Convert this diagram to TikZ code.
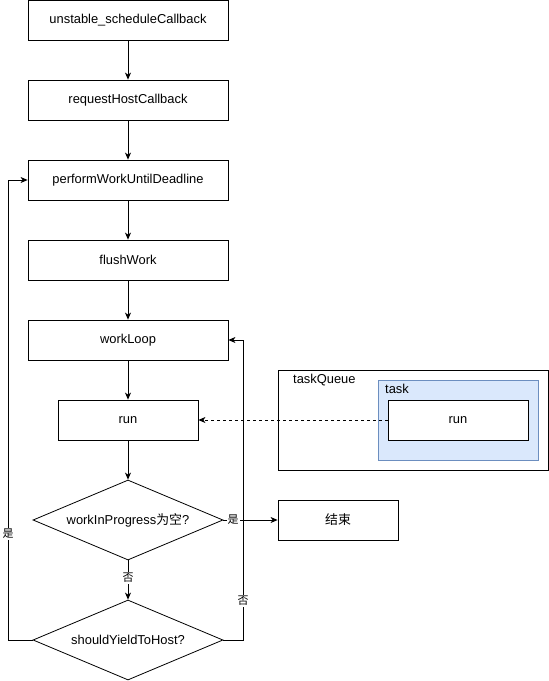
\documentclass[tikz,border=0pt]{standalone}
\usepackage{fontspec}
\setmainfont{Liberation Sans}
\newfontfamily\cjk{Noto Sans CJK SC}
\usetikzlibrary{arrows.meta,shapes.geometric}
\definecolor{taskstroke}{RGB}{108,142,191}
\definecolor{taskfill}{RGB}{218,232,252}
\begin{document}
\begin{tikzpicture}[x=1pt,y=-1pt,
  font=\fontsize{12.9}{15}\selectfont,
  >={Stealth[length=7pt,width=6pt,inset=2pt]},
  box/.style={draw,line width=0.8pt,fill=white,minimum width=200pt,minimum height=40pt,inner sep=0pt},
  rbox/.style={draw,line width=0.8pt,fill=white,minimum width=140pt,minimum height=40pt,inner sep=0pt},
  dec/.style={draw,line width=0.8pt,diamond,aspect=2.375,minimum width=190pt,minimum height=80pt,inner sep=0pt},
  conn/.style={line width=0.8pt,->},
  lbl/.style={fill=white,inner sep=1pt,font=\cjk\fontsize{11}{13}\selectfont}
]
\useasboundingbox (0,0) rectangle (549,681);
\node[box] (a) at (128,20.5) {unstable\_scheduleCallback};
\node[box] (b) at (128,100) {requestHostCallback};
\node[box] (c) at (128,180) {performWorkUntilDeadline};
\node[box] (d) at (128,260) {flushWork};
\node[box] (e) at (128,340) {workLoop};
\node[rbox] (f) at (128,420) {run};
\node[dec] (g) at (128,520) {workInProgress{\cjk 为空}?};
\node[dec] (h) at (128,640) {shouldYieldToHost?};
\node[draw,line width=0.8pt,minimum width=120pt,minimum height=40pt,inner sep=0pt] (end) at (338,520) {\cjk 结束};
\node[draw,line width=0.8pt,minimum width=270pt,minimum height=100pt,inner sep=0pt] (q) at (413,420) {};
\node[anchor=north west,inner sep=0pt] (qt) at (293,374) {taskQueue};
\node[draw=taskstroke,fill=taskfill,line width=0.8pt,minimum width=160pt,minimum height=80pt,inner sep=0pt] (t) at (458,420) {};
\node[anchor=north west,inner sep=0pt] (tt) at (385,384) {task};
\node[rbox] (tr) at (458,420) {run};
\draw[conn] (a) -- (b);
\draw[conn] (b) -- (c);
\draw[conn] (c) -- (d);
\draw[conn] (d) -- (e);
\draw[conn] (e) -- (f);
\draw[conn] (f) -- (g);
\draw[conn,dashed] (tr.west) -- (f.east);
\draw[conn] (g.east) -- node[lbl,pos=0.18] {是} (end.west);
\draw[conn] (g.south) -- node[lbl,pos=0.45] {否} (h.north);
\coordinate (l1) at (8,640);
\coordinate (l2) at (8,180);
\draw[conn] (h.west) -- (l1) -- node[lbl,pos=0.231] {是} (l2) -- (c.west);
\coordinate (r1) at (243,640);
\coordinate (r2) at (243,340);
\draw[conn] (h.east) -- (r1) -- node[lbl,pos=0.13] {否} (r2) -- (e.east);
\end{tikzpicture}
\end{document}
